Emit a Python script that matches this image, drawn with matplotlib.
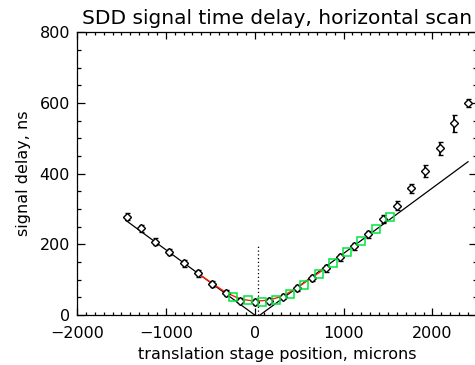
import matplotlib
matplotlib.use("Agg")
import matplotlib.pyplot as plt
from matplotlib.ticker import MultipleLocator

# stage positions (microns) and measured delays (ns)
pos = [-1440, -1280, -1120, -960, -800, -640, -480, -320, -160, 0,
       160, 320, 480, 640, 800, 960, 1120, 1280, 1440, 1600,
       1760, 1920, 2080, 2240, 2400]
delay = [278, 245, 208, 178, 146, 118, 88, 62, 41, 36,
         41, 52, 76, 104, 132, 163, 195, 229, 272, 309,
         359, 408, 472, 543, 601]
delay_err = [10, 10, 9, 9, 9, 9, 9, 8, 8, 8,
             8, 8, 8, 9, 9, 9, 10, 10, 11, 13,
             13, 16, 19, 24, 12]

# second scan (green squares)
pos2 = [-240, -80, 80, 240, 400, 560, 720, 880, 1040, 1200, 1360, 1520]
delay2 = [52, 42, 38, 43, 59, 85, 116, 146, 178, 209, 243, 278]

# fitted curve near the minimum (red)
fit_x = [-640, -480, -320, -160, 0, 160, 320, 480, 640, 800]
fit_y = [118, 90, 63, 45, 39, 42, 54, 78, 105, 133]

# straight-line asymptotes
left_x = [-1450, 0]
left_y = [268, 0]
right_x = [60, 2400]
right_y = [0, 434]

fig = plt.figure(figsize=(4.75, 3.65), dpi=100)
ax = fig.add_axes([0.162, 0.137, 0.842, 0.774])

ax.plot(left_x, left_y, color="black", lw=0.9)
ax.plot(right_x, right_y, color="black", lw=0.9)
ax.plot([37, 37], [0, 198], color="black", lw=0.9, ls=(0, (1, 2)))
ax.plot(fit_x, fit_y, color="#ff2000", lw=1.0)

ax.errorbar(pos, delay, yerr=delay_err, fmt="D", ms=4, mfc="white",
            mec="black", mew=1.0, ecolor="black", elinewidth=1.3,
            capsize=1.8, capthick=1.3, zorder=3)
ax.plot(pos2, delay2, "s", ms=5.5, mfc="none", mec="#00e640", mew=1.1,
        zorder=4)

ax.set_xlim(-2000, 2500)
ax.set_ylim(0, 800)
ax.xaxis.set_major_locator(MultipleLocator(1000))
ax.xaxis.set_minor_locator(MultipleLocator(100))
ax.yaxis.set_major_locator(MultipleLocator(200))
ax.yaxis.set_minor_locator(MultipleLocator(50))
ax.tick_params(which="both", direction="in", top=True, right=True,
               width=0.9, labelsize=11.5)
ax.tick_params(axis="x", which="both", pad=8)
ax.tick_params(axis="y", which="both", pad=5)
ax.tick_params(axis="x", which="major", length=5)
ax.tick_params(axis="x", which="minor", length=2.5)
ax.tick_params(axis="y", which="major", length=6)
ax.tick_params(axis="y", which="minor", length=3)
for sp in ax.spines.values():
    sp.set_linewidth(0.9)

ax.set_title("SDD signal time delay, horizontal scan", fontsize=14.5, pad=6)
ax.set_xlabel("translation stage position, microns", fontsize=11.5, labelpad=4)
ax.set_ylabel("signal delay, ns", fontsize=11.5, labelpad=6)

fig.savefig("out.png", dpi=100)
